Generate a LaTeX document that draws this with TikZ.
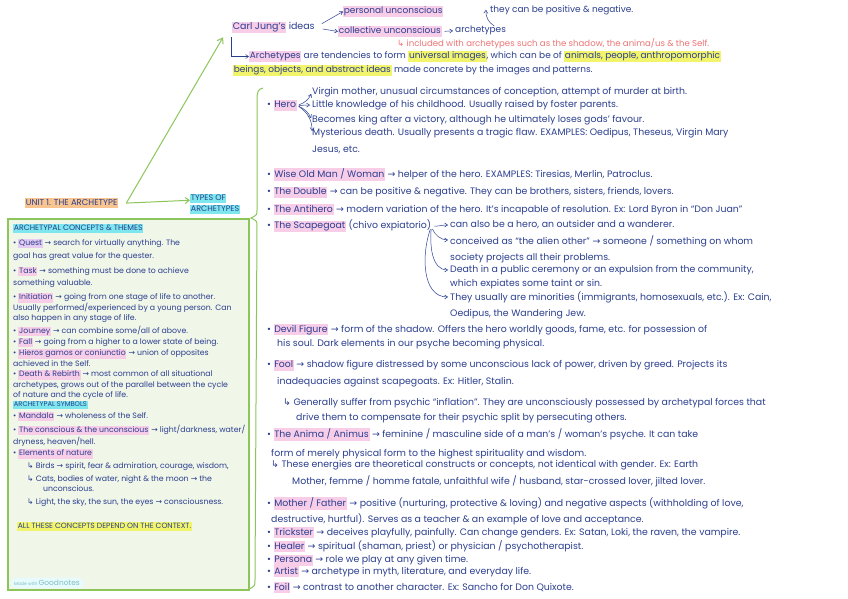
\documentclass[tikz,border=0pt]{standalone}
\usepackage{fontspec}
\setmainfont{Poppins}
\newfontfamily\symfont{DejaVu Sans}
\usetikzlibrary{arrows.meta}
\definecolor{ink}{HTML}{2B3F8F}
\definecolor{redInk}{HTML}{EE7373}
\definecolor{leaf}{HTML}{8CC65A}
\definecolor{boxFill}{HTML}{F0F6E8}
\definecolor{hlPink}{HTML}{F8CDE8}
\definecolor{hlPur}{HTML}{E4CCF2}
\definecolor{hlYel}{HTML}{F2F56B}
\definecolor{hlCyan}{HTML}{7EE7EE}
\definecolor{hlOrange}{HTML}{F8C490}
\newcommand{\ra}{{\symfont\char"2192}}
\newcommand{\hk}{{\symfont\char"21B3}}
\newcommand{\hlmark}[2]{{\setlength{\fboxsep}{0.7pt}\colorbox{#1}{\vphantom{Ag}#2}}}
\newcommand{\hlpink}[1]{\hlmark{hlPink}{#1}}
\newcommand{\hlpur}[1]{\hlmark{hlPur}{#1}}
\newcommand{\hlyel}[1]{\hlmark{hlYel}{#1}}
\newcommand{\hlcyan}[1]{\hlmark{hlCyan}{#1}}
\newcommand{\hlorange}[1]{\hlmark{hlOrange}{#1}}
\begin{document}
\begin{tikzpicture}[x=1bp,y=-1bp,
  txt/.style={anchor=north west,inner sep=0pt,align=left,text=ink,font=\fontsize{9.4}{14.5}\selectfont},
  sp/.style={font=\fontsize{9.4}{#1}\selectfont},
  toptxt/.style={txt,font=\fontsize{9}{14}\selectfont},
  boxtxt/.style={txt,font=\fontsize{7.8}{11.5}\selectfont},
  bsp/.style={font=\fontsize{7.8}{#1}\selectfont},
  caps/.style={txt,font=\fontsize{#1}{12}\selectfont},
  arr/.style={draw=ink,line width=0.5bp,-{Straight Barb[length=3bp,width=4bp]}},
  grn/.style={draw=leaf,line width=1bp}]
\fill[white] (0,0) rectangle (848,599);
\useasboundingbox (0,0) rectangle (848,599);

% Carl Jung's ideas
\node[txt,font=\fontsize{9.5}{12}\selectfont] (cj) at (232,22) {\hlpink{Carl Jung's} ideas};
\node[toptxt] (pu) at (343,6) {\hlpink{personal unconscious}};
\node[toptxt] (cu) at (338,26) {\hlpink{collective unconscious}};
\node[toptxt] (ar) at (455,26) {archetypes};
\node[toptxt] (pos) at (490,5) {they can be positive \& negative.};
\node[toptxt,text=redInk,font=\fontsize{8.6}{12}\selectfont] (red) at (397,38) {\hk{} included with archetypes such as the shadow, the anima/us \& the Self.};
\node[toptxt] (ad1) at (249,51) {\hlpink{Archetypes} are tendencies to form \hlyel{universal images}, which can be of \hlyel{animals, people, anthropomorphic}};
\node[toptxt] (ad2) at (233,65) {\hlyel{beings, objects, and abstract ideas} made concrete by the images and patterns.};
\draw[arr,shorten <=8bp] (cj.east) -- (pu.west);
\draw[arr,shorten <=8bp] (cj.east) -- (cu.west);
\draw[arr,shorten <=3bp,shorten >=2bp] (cu.east) -- (ar.west);
\draw[arr] ([xshift=-12bp]ar.north east) to[bend left=30] ([xshift=-4bp]pos.west);
\draw[arr,shorten <=4bp] ([xshift=-1bp]cj.south west) |- (ad1.west);

% unit title and types
\node[caps=8.5] (unit) at (25,198) {\hlorange{UNIT 1. THE ARCHETYPE}};
\node[caps=8] (types) at (190,194) {\hlcyan{TYPES OF}\\[-1bp]\hlcyan{ARCHETYPES}};
\coordinate (vtx) at ([xshift=8bp]unit.east);
\draw[grn,-{Straight Barb[length=5bp,width=7bp]}] (vtx) -- ([shift={(-9,4)}]cj.south west);
\draw[grn,-{Straight Barb[length=4bp,width=6bp]}] (vtx) -- ([yshift=4bp]types.west);

% concepts box
\draw[grn,fill=boxFill,line width=1.5bp] (8,219) rectangle (249,590);
\node[caps=7.8] (bh) at (13,224) {\hlcyan{ARCHETYPAL CONCEPTS \& THEMES}};
\node[boxtxt,bsp=13] (quest) at (13,239) {• \hlpur{Quest} \ra{} search for virtually anything. The\\goal has great value for the quester.};
\node[boxtxt,bsp=12] (task) at (13,267) {• \hlpink{Task} \ra{} something must be done to achieve\\something valuable.};
\node[boxtxt,bsp=10.5] (init) at (13,293) {• \hlpink{Initiation} \ra{} going from one stage of life to another.\\Usually performed/experienced by a young person. Can\\also happen in any stage of life.};
\node[boxtxt] (journey) at (13,326) {• \hlpink{Journey} \ra{} can combine some/all of above.};
\node[boxtxt] (fall) at (13,338) {• \hlpink{Fall} \ra{} going from a higher to a lower state of being.};
\node[boxtxt,bsp=11] (hieros) at (13,349) {• \hlpink{Hieros gamos or coniunctio} \ra{} union of opposites\\achieved in the Self.};
\node[boxtxt,bsp=10.5] (death) at (13,370) {• \hlpink{Death \& Rebirth} \ra{} most common of all situational\\archetypes, grows out of the parallel between the cycle\\of nature and the cycle of life.};
\node[caps=6.8] (symh) at (13,401) {\hlcyan{ARCHETYPAL SYMBOLS}};
\node[boxtxt] (mandala) at (13,412) {• \hlpink{Mandala} \ra{} wholeness of the Self.};
\node[boxtxt,bsp=12] (consc) at (13,425) {• \hlpink{The conscious \& the unconscious} \ra{} light/darkness, water/\\dryness, heaven/hell.};
\node[boxtxt] (nature) at (13,449) {• \hlpink{Elements of nature}};
\node[boxtxt] (birds) at (27,462) {\hk{} Birds \ra{} spirit, fear \& admiration, courage, wisdom,};
\node[boxtxt,bsp=10] (cats) at (27,475) {\hk{} Cats, bodies of water, night \& the moon \ra{} the\\\hspace*{16bp}unconscious.};
\node[boxtxt] (light) at (27,498) {\hk{} Light, the sky, the sun, the eyes \ra{} consciousness.};
\node[caps=7.6] (allc) at (17,522) {\hlyel{ALL THESE CONCEPTS DEPEND ON THE CONTEXT.}};
\node[anchor=west,fill=hlCyan!18,rounded corners=6bp,inner xsep=4bp,inner ysep=2.5bp,font=\fontsize{4.5}{5}\selectfont,text=hlCyan!60!gray] (made) at (10,583) {Made with {\fontsize{7.5}{8}\selectfont Goodnotes}};

% types of archetypes
\draw[grn] (263,88) .. controls (258,89) and (257,92) .. (257,100) -- (257,210) .. controls (257,215) .. (251,218) .. controls (257,221) .. (257,226) -- (255,580) .. controls (255,586) .. (249,589);

\node[txt] (hero) at (267,100) {• \hlpink{Hero}};
\node[txt] (h1) at (312,87) {Virgin mother, unusual circumstances of conception, attempt of murder at birth.};
\node[txt] (h2) at (312,100) {Little knowledge of his childhood. Usually raised by foster parents.};
\node[txt] (h3) at (312,115) {Becomes king after a victory, although he ultimately loses gods' favour.};
\node[txt,sp=17] (h4) at (312,128) {Mysterious death. Usually presents a tragic flaw. EXAMPLES: Oedipus, Theseus, Virgin Mary\\Jesus, etc.};
\foreach \k/\b in {1/-25,2/0,3/20,4/30}
  \draw[arr,shorten <=2bp,shorten >=2bp] (hero.east) to[bend left=\b] ([yshift=-5bp]h\k.north west);

\node[txt] (wise) at (267,168) {• \hlpink{Wise Old Man / Woman} \ra{} helper of the hero. EXAMPLES: Tiresias, Merlin, Patroclus.};
\node[txt] (double) at (267,187) {• \hlpink{The Double} \ra{} can be positive \& negative. They can be brothers, sisters, friends, lovers.};
\node[txt] (anti) at (267,204) {• \hlpink{The Antihero} \ra{} modern variation of the hero. It's incapable of resolution. Ex: Lord Byron in “Don Juan”};

\node[txt] (scape) at (267,220) {• \hlpink{The Scapegoat} (chivo expiatorio)};
\node[txt] (s1) at (450,220) {can also be a hero, an outsider and a wanderer.};
\node[txt,sp=17] (s2) at (450,235) {conceived as “the alien other” \ra{} someone / something on whom\\society projects all their problems.};
\node[txt,sp=14] (s3) at (450,265) {Death in a public ceremony or an expulsion from the community,\\which expiates some taint or sin.};
\node[txt,sp=16] (s4) at (450,292) {They usually are minorities (immigrants, homosexuals, etc.). Ex: Cain,\\Oedipus, the Wandering Jew.};
\draw[arr,shorten <=3bp,shorten >=2bp] (scape.east) to[out=0,in=180] ([yshift=-5bp]s1.north west);
\foreach \k/\o in {2/-70,3/-95,4/-110}
  \draw[arr,shorten <=3bp,shorten >=2bp] (scape.east) to[out=\o,in=180] ([yshift=-5bp]s\k.north west);

\node[txt,sp=15] (devil) at (267,324) {• \hlpink{Devil Figure} \ra{} form of the shadow. Offers the hero worldly goods, fame, etc. for possession of\\\hspace*{10bp}his soul. Dark elements in our psyche becoming physical.};
\node[txt,sp=17] (fool) at (267,360) {• \hlpink{Fool} \ra{} shadow figure distressed by some unconscious lack of power, driven by greed. Projects its\\\hspace*{10bp}inadequacies against scapegoats. Ex: Hitler, Stalin.};
\node[txt,sp=15] (fool2) at (283,398) {\hk{} Generally suffer from psychic “inflation”. They are unconsciously possessed by archetypal forces that\\\hspace*{13bp}drive them to compensate for their psychic split by persecuting others.};
\node[txt,sp=19] (anima) at (267,428) {• \hlpink{The Anima / Animus} \ra{} feminine / masculine side of a man's / woman's psyche. It can take\\\hspace*{4bp}form of merely physical form to the highest spirituality and wisdom.};
\node[txt,sp=17] (anima2) at (271,460) {\hk{} These energies are theoretical constructs or concepts, not identical with gender. Ex: Earth\\\hspace*{21bp}Mother, femme / homme fatale, unfaithful wife / husband, star-crossed lover, jilted lover.};
\node[txt,sp=16] (mother) at (267,497) {• \hlpink{Mother / Father} \ra{} positive (nurturing, protective \& loving) and negative aspects (withholding of love,\\\hspace*{4bp}destructive, hurtful). Serves as a teacher \& an example of love and acceptance.};
\node[txt] (trick) at (267,527) {• \hlpink{Trickster} \ra{} deceives playfully, painfully. Can change genders. Ex: Satan, Loki, the raven, the vampire.};
\node[txt] (healer) at (267,540) {• \hlpink{Healer} \ra{} spiritual (shaman, priest) or physician / psychotherapist.};
\node[txt] (persona) at (267,555) {• \hlpink{Persona} \ra{} role we play at any given time.};
\node[txt] (artist) at (267,566) {• \hlpink{Artist} \ra{} archetype in myth, literature, and everyday life.};
\node[txt] (foil) at (267,582) {• \hlpink{Foil} \ra{} contrast to another character. Ex: Sancho for Don Quixote.};
\end{tikzpicture}
\end{document}
